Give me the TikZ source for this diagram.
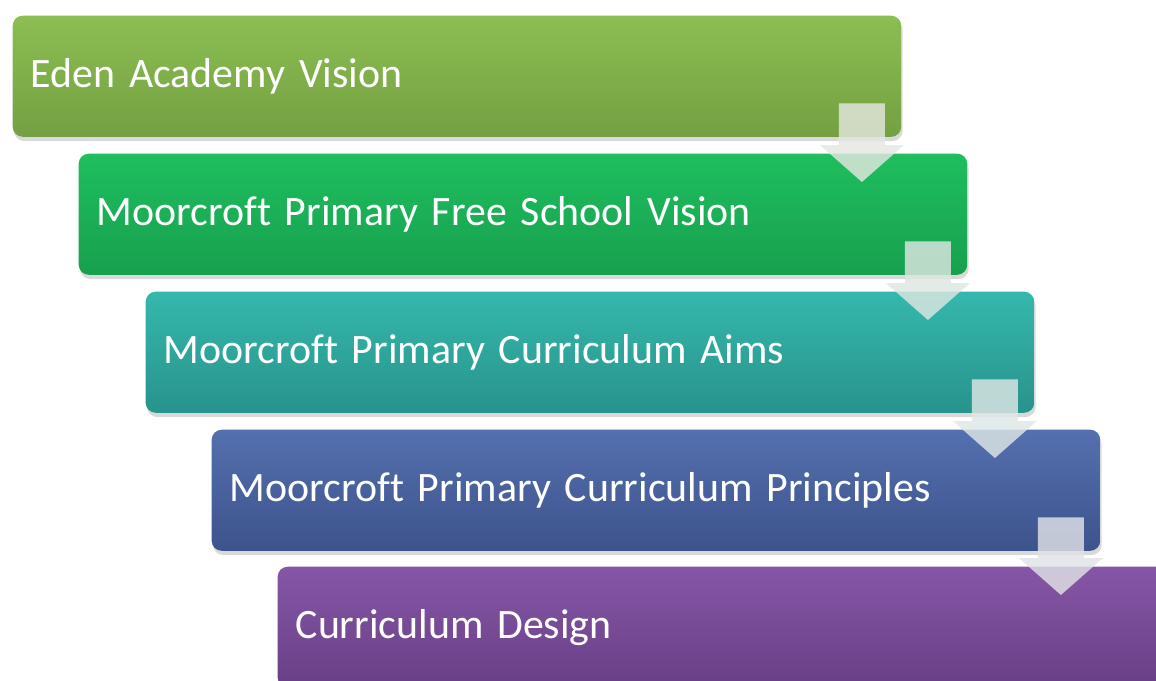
\documentclass[tikz,border=0pt]{standalone}
\usepackage{fontspec}
\setmainfont[Ligatures=NoCommon]{Carlito}
\usetikzlibrary{calc,shadows,positioning}

\definecolor{stepA}{HTML}{8CBE52}
\definecolor{stepAd}{HTML}{74A042}
\definecolor{stepB}{HTML}{1FBE5E}
\definecolor{stepBd}{HTML}{17A04E}
\definecolor{stepC}{HTML}{35B8AC}
\definecolor{stepCd}{HTML}{28938C}
\definecolor{stepD}{HTML}{5470AE}
\definecolor{stepDd}{HTML}{3D538C}
\definecolor{stepE}{HTML}{8656A6}
\definecolor{stepEd}{HTML}{683F86}

\tikzset{
  stage/.style={rectangle,rounded corners=0.1cm,anchor=north west,
    text width=8.52cm,inner xsep=0.18cm,inner ysep=0pt,minimum height=1.21cm,
    align=left,text=white,font=\fontsize{11.9}{14}\selectfont,
    drop shadow={shadow xshift=0.4pt,shadow yshift=-1.2pt,opacity=0.3}},
  downarrow/.style={fill=#1!30!gray!22!white,fill opacity=0.82}
}

\begin{document}
\begin{tikzpicture}[x=0.01cm,y=-0.01cm]
\useasboundingbox (0,0) rectangle (1156,681);
\clip (0,0) rectangle (1156,681);

% the five stages
\node[stage,top color=stepA,bottom color=stepAd] (b1) at (12,15) {Eden Academy Vision};
\node[stage,top color=stepB,bottom color=stepBd] (b2) at (78,153) {Moorcroft Primary Free School Vision};
\node[stage,top color=stepC,bottom color=stepCd] (b3) at (145,291) {Moorcroft Primary Curriculum Aims};
\node[stage,top color=stepD,bottom color=stepDd] (b4) at (211,429) {Moorcroft Primary Curriculum Principles};
\node[stage,top color=stepE,bottom color=stepEd] (b5) at (277,566) {Curriculum Design};

% arrows between stages
\foreach \a/\b/\c in {b1/b2/stepA,b2/b3/stepB,b3/b4/stepC,b4/b5/stepD}{
  \coordinate (r) at (\a.south east);
  \coordinate (t) at (\a.south east |- \b.north west);
  \fill[downarrow=\c]
    ($(r)+(-63,-34)$) -- ($(r)+(-17,-34)$) -- ($(t)+(-17,-8)$) -- ($(t)+(2,-8)$)
    -- ($(t)+(-40,29)$) -- ($(t)+(-82,-8)$) -- ($(t)+(-63,-8)$) -- cycle;
}
\end{tikzpicture}
\end{document}
